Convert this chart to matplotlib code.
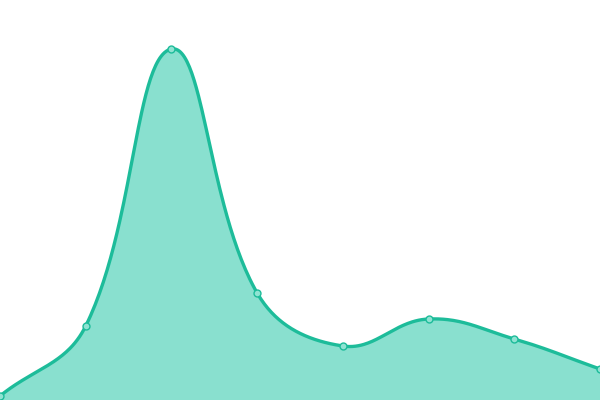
import numpy as np
import matplotlib
matplotlib.use("Agg")
import matplotlib.pyplot as plt

categories = ["A", "B", "C", "D", "E", "F", "G", "H"]
values = [4, 74, 351, 107, 54, 81, 61, 31]

LINE = "#1dbc9a"
FILL = "#89e0cf"
W, H = 600, 400


def spline(px, py, tension=0.4, n=60):
    """Chart.js-style spline through points (pixel space)."""
    m = len(px)
    cps = []
    for i in range(m):
        pp = (px[max(i - 1, 0)], py[max(i - 1, 0)])
        c = (px[i], py[i])
        nx = (px[min(i + 1, m - 1)], py[min(i + 1, m - 1)])
        d01 = np.hypot(c[0] - pp[0], c[1] - pp[1])
        d12 = np.hypot(nx[0] - c[0], nx[1] - c[1])
        s01 = d01 / (d01 + d12) if d01 + d12 else 0
        s12 = d12 / (d01 + d12) if d01 + d12 else 0
        fa = tension * s01
        fb = tension * s12
        prev_cp = (c[0] - fa * (nx[0] - pp[0]), c[1] - fa * (nx[1] - pp[1]))
        next_cp = (c[0] + fb * (nx[0] - pp[0]), c[1] + fb * (nx[1] - pp[1]))
        prev_cp = (min(max(prev_cp[0], 0), W), min(max(prev_cp[1], 0), H))
        next_cp = (min(max(next_cp[0], 0), W), min(max(next_cp[1], 0), H))
        cps.append((prev_cp, next_cp))
    u = np.linspace(0, 1, n)
    xs, ys = [], []
    for i in range(m - 1):
        P0 = (px[i], py[i]); P1 = cps[i][1]; P2 = cps[i + 1][0]; P3 = (px[i + 1], py[i + 1])
        bx = (1 - u) ** 3 * P0[0] + 3 * (1 - u) ** 2 * u * P1[0] + 3 * (1 - u) * u ** 2 * P2[0] + u ** 3 * P3[0]
        by = (1 - u) ** 3 * P0[1] + 3 * (1 - u) ** 2 * u * P1[1] + 3 * (1 - u) * u ** 2 * P2[1] + u ** 3 * P3[1]
        xs.extend(bx if i == 0 else bx[1:])
        ys.extend(by if i == 0 else by[1:])
    return np.array(xs), np.array(ys)


x = np.arange(len(categories))
xmax = len(categories) - 1
ymax = 400
px = x * W / xmax
py = np.array(values, float) * H / ymax
sxp, syp = spline(px, py)
sx = sxp * xmax / W
sy = syp * ymax / H

fig = plt.figure(figsize=(6, 4), dpi=100)
ax = fig.add_axes([0, 0, 1, 1])
ax.fill_between(sx, 0, sy, color=FILL, linewidth=0)
ax.plot(sx, sy, color=LINE, linewidth=2.4, solid_capstyle="round")
ax.plot(x, values, "o", markersize=5, markerfacecolor="#8fe3d2",
        markeredgecolor=LINE, markeredgewidth=1.0, clip_on=False)
ax.set_xlim(0, xmax)
ax.set_ylim(0, ymax)
ax.axis("off")
fig.savefig("out.png", dpi=100)
